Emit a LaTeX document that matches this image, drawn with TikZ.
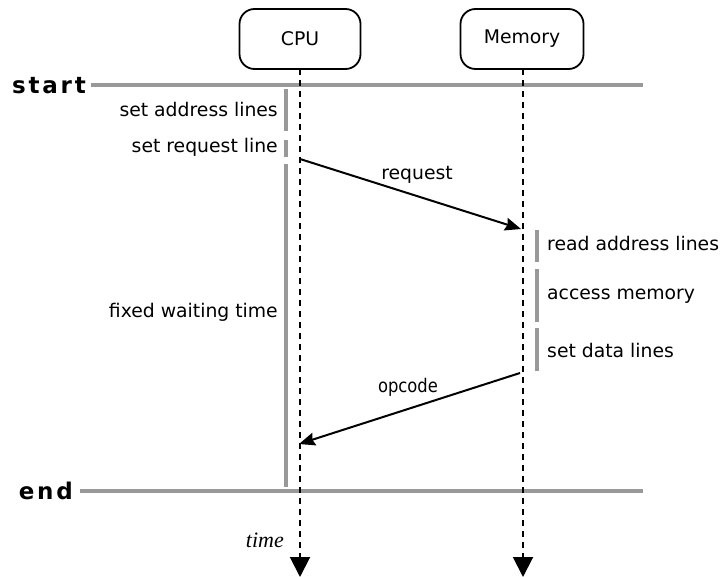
\documentclass[tikz,border=0pt]{standalone}
\usepackage{fontspec}
\usepackage{graphicx}
\setmainfont{DejaVu Sans}
\newfontfamily\tmfont{Liberation Serif}
\newfontfamily\lsfont{DejaVu Sans}[LetterSpace=12]
\usetikzlibrary{arrows.meta}
\definecolor{bargray}{HTML}{999999}
\tikzset{
  actor/.style={draw, line width=1.8pt, rounded corners=15pt, minimum width=121pt, minimum height=60pt, font=\fontsize{18.8}{20}\selectfont, inner sep=0pt},
  lifeline/.style={line width=2pt, dash pattern=on 6pt off 5pt, -{Triangle[length=20pt,width=20pt]}},
  phase/.style={line width=4pt, bargray},
  bar/.style={line width=4pt, bargray},
  lbl/.style={font=\fontsize{18.8}{20}\selectfont, inner sep=0pt},
  msg/.style={line width=2pt, -{Stealth[length=16pt,width=13pt,inset=2pt]}},
  boundlbl/.style={font=\lsfont\bfseries\fontsize{23}{25}\selectfont, inner sep=0pt}
}
\begin{document}
\begin{tikzpicture}[x=1pt,y=-1pt]
\useasboundingbox (0,0) rectangle (722,577);
% actors
\node[actor] (cpu) at (300,39) {CPU};
\node[actor, minimum width=123pt] (mem) at (522,39) {Memory};
% start / end lines
\node[boundlbl, anchor=base east] (start) at (86,94) {start};
\node[boundlbl, anchor=base east] (end) at (73,499) {end};
\coordinate (startL) at (91,85);
\coordinate (startR) at (643,85);
\coordinate (endL) at (80,491);
\coordinate (endR) at (643,491);
\draw[phase] (startL) -- (startR);
\draw[phase] (endL) -- (endR);
% lifelines
\coordinate (cpuEnd) at (300,577);
\coordinate (memEnd) at (523,577);
\draw[lifeline] (300,69) -- (cpuEnd);
\draw[lifeline] (523,69) -- (memEnd);
% CPU phases
\coordinate (b1a) at (286,89); \coordinate (b1b) at (286,131);
\coordinate (b2a) at (286,140); \coordinate (b2b) at (286,157);
\coordinate (b3a) at (286,164); \coordinate (b3b) at (286,487);
\draw[bar] (b1a) -- (b1b);
\draw[bar] (b2a) -- (b2b);
\draw[bar] (b3a) -- (b3b);
\node[lbl, anchor=base east] (l1) at (278,117) {set address lines};
\node[lbl, anchor=base east] (l2) at (278,153) {set request line};
\node[lbl, anchor=base east] (l3) at (278,317) {fixed waiting time};
% Memory phases
\coordinate (m1a) at (537,230); \coordinate (m1b) at (537,262);
\coordinate (m2a) at (537,269); \coordinate (m2b) at (537,322);
\coordinate (m3a) at (537,328); \coordinate (m3b) at (537,371);
\draw[bar] (m1a) -- (m1b);
\draw[bar] (m2a) -- (m2b);
\draw[bar] (m3a) -- (m3b);
\node[lbl, anchor=base west] (r1) at (547,251) {read address lines};
\node[lbl, anchor=base west] (r2) at (547,299) {access memory};
\node[lbl, anchor=base west] (r3) at (547,357) {set data lines};
% messages
\coordinate (reqS) at (300,159);
\coordinate (reqE) at (521,229);
\coordinate (opS) at (520,373);
\coordinate (opE) at (299,444);
\draw[msg] (reqS) -- (reqE);
\draw[msg] (opS) -- (opE);
\node[lbl, anchor=base] (reql) at (417,180) {request};
\node[lbl, anchor=base] (opl) at (408,392) {\scalebox{0.87}[1]{opcode}};
% time
\node[inner sep=0pt, anchor=base east, font=\tmfont\itshape\fontsize{22}{24}\selectfont] (time) at (284,547) {time};
\end{tikzpicture}
\end{document}
